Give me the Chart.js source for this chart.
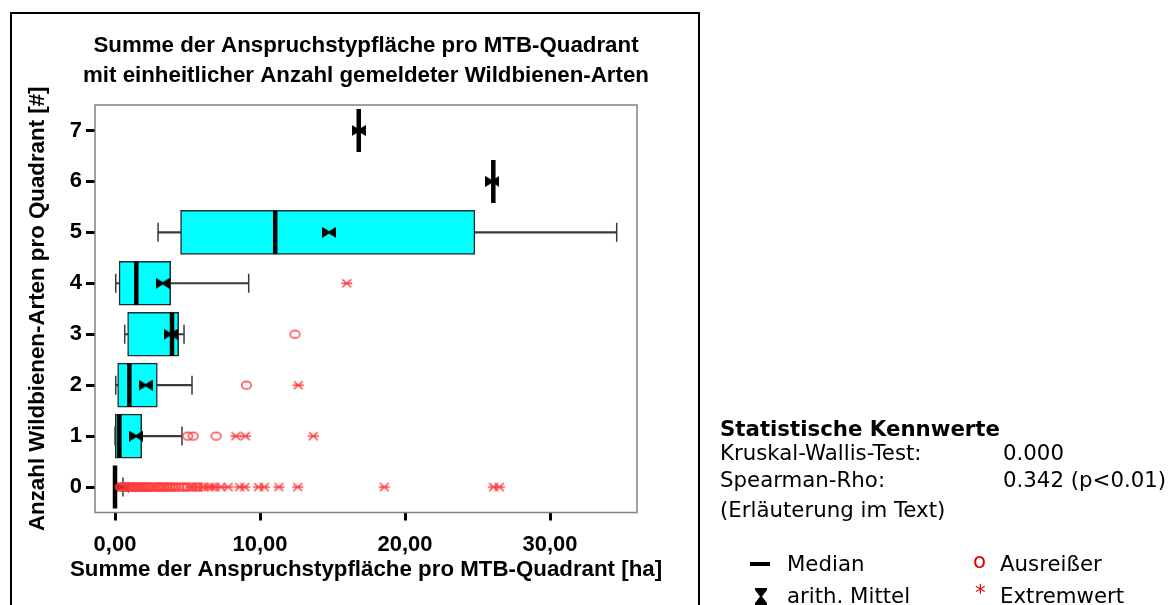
<!DOCTYPE html>
<html><head><meta charset="utf-8">
<script src="https://cdn.jsdelivr.net/npm/chart.js@4.4.0/dist/chart.umd.min.js"></script>
<style>
html,body{margin:0;padding:0;background:#fff;width:1175px;height:605px;overflow:hidden;position:relative;}
#frame{position:absolute;left:10px;top:12px;width:690px;height:700px;border:2px solid #000;box-sizing:border-box;}
#wrap{position:absolute;left:0;top:0;width:1175px;height:605px;}
.t{position:absolute;font-family:"DejaVu Sans",Verdana,sans-serif;font-size:21.3px;color:#000;white-space:nowrap;line-height:24px;}
.b{font-weight:bold;}
.red{color:#e00000;}
</style></head><body>
<div id="frame"></div>
<div id="wrap"><canvas id="c" width="1175" height="605"></canvas></div>

<div class="t b" style="left:720px;top:417px;">Statistische Kennwerte</div>
<div class="t" style="left:720px;top:441px;">Kruskal-Wallis-Test:</div>
<div class="t" style="left:1003px;top:441px;">0.000</div>
<div class="t" style="left:720px;top:468px;">Spearman-Rho:</div>
<div class="t" style="left:1003px;top:468px;">0.342 (p&lt;0.01)</div>
<div class="t" style="left:720px;top:498px;">(Erläuterung im Text)</div>

<div style="position:absolute;left:750px;top:562px;width:20px;height:4px;background:#000;"></div>
<div class="t" style="left:787px;top:552px;">Median</div>
<div class="t red" style="left:973px;top:549px;">o</div>
<div class="t" style="left:1000px;top:552px;">Ausreißer</div>
<svg style="position:absolute;left:755px;top:588px;" width="12" height="17" viewBox="0 0 12 17"><path d="M0 0 H12 V2 L7 8.5 L12 15 V17 H0 V15 L5 8.5 L0 2 Z" fill="#000"/></svg>
<div class="t" style="left:787px;top:584px;">arith. Mittel</div>
<div class="t red" style="left:975px;top:581px;">*</div>
<div class="t" style="left:1000px;top:584px;">Extremwert</div>

<script>
// ---- data ----
const categories   = [0, 1, 2, 3, 4, 5, 6, 7];
const yTickLabels  = ['0', '1', '2', '3', '4', '5', '6', '7'];
const xTickValues  = [0, 10, 20, 30];
const xTickLabels  = ['0,00', '10,00', '20,00', '30,00'];

const whiskerLow   = [0.00, 0.00, 0.05, 0.67, 0.05, 2.97, 26.09, 16.81];
const q1           = [0.00, 0.02, 0.18, 0.87, 0.28, 4.52, 26.09, 16.81];
const medians      = [0.00, 0.30, 0.99, 3.93, 1.47, 11.05, 26.09, 16.81];
const q3           = [0.00, 1.84, 2.92, 4.39, 3.84, 24.82, 26.09, 16.81];
const whiskerHigh  = [0.55, 4.62, 5.31, 4.76, 9.22, 34.60, 26.09, 16.81];
const means        = [0.50, 1.45, 2.11, 3.84, 3.29, 14.76, 26.02, 16.81];

// outliers (circles) per category
const outliers0 = [0.35, 0.45, 0.55, 0.65, 0.75, 0.85, 0.95, 1.05, 1.15, 1.25, 1.35, 1.45, 1.55,
                   1.65, 1.75, 1.85, 1.95, 2.05, 2.15, 2.25, 2.35, 2.45, 2.6, 2.75, 2.9, 3.0, 3.1,
                   3.2, 3.35, 3.5, 3.6, 3.75, 3.9, 4.05, 4.2, 4.4, 4.6, 4.8, 5.0, 5.3, 5.6, 5.9];
const outliers1 = [5.01, 5.39, 6.97];
const outliers2 = [9.06];
const outliers3 = [12.41];
const outliers4 = [];
// extremes (asterisks) per category
const extremes0 = [5.3, 5.7, 6.1, 6.5, 6.7, 6.9, 7.3, 7.8, 8.6, 8.95, 9.9, 10.3, 11.3, 12.6, 18.57, 26.1, 26.5];
const extremes1 = [8.34, 8.99, 13.68];
const extremes2 = [12.64];
const extremes3 = [];
const extremes4 = [15.98];

const titleLines = ['Summe der Anspruchstypfläche pro MTB-Quadrant',
                    'mit einheitlicher Anzahl gemeldeter Wildbienen-Arten'];
const xTitle = 'Summe der Anspruchstypfläche pro MTB-Quadrant [ha]';
const yTitle = 'Anzahl Wildbienen-Arten pro Quadrant [#]';

// ---- marker images ----
function makeCanvas(w, h, draw) {
  const c = document.createElement('canvas'); c.width = w; c.height = h;
  draw(c.getContext('2d'), w, h); return c;
}
const bowtie = makeCanvas(14, 11, (g, w, h) => {
  g.fillStyle = '#000'; g.beginPath();
  g.moveTo(0, 0); g.lineTo(w / 2, h / 2 - 1.2); g.lineTo(w, 0); g.lineTo(w, h);
  g.lineTo(w / 2, h / 2 + 1.2); g.lineTo(0, h); g.closePath(); g.fill();
});
const redColor = '#ff3b3b';
const ellipse = makeCanvas(13, 11, (g) => {
  g.strokeStyle = redColor; g.lineWidth = 1.4; g.beginPath();
  g.ellipse(6.5, 5.5, 4.8, 3.8, 0, 0, Math.PI * 2); g.stroke();
});
const asterisk = makeCanvas(13, 11, (g) => {
  g.strokeStyle = redColor; g.lineWidth = 1.4; g.beginPath();
  g.moveTo(2, 1.5); g.lineTo(11, 9.5); g.moveTo(11, 1.5); g.lineTo(2, 9.5);
  g.moveTo(1, 5.5); g.lineTo(12, 5.5); g.stroke();
});

// ---- build datasets from arrays ----
const whiskerBars = categories.map((c, i) => ({ x: [whiskerLow[i], whiskerHigh[i]], y: c }));
const boxBars = categories.map((c, i) => ({ x: [q1[i], q3[i]], y: c }));
const capPts = [];
categories.forEach((c, i) => {
  if (whiskerHigh[i] > whiskerLow[i]) {
    capPts.push({ x: whiskerLow[i], y: c }); capPts.push({ x: whiskerHigh[i], y: c });
  }
});
const medianPts = categories.map((c, i) => ({ x: medians[i], y: c }));
const meanPts = categories.map((c, i) => ({ x: means[i], y: c }));
const outlierPts = [];
[outliers0, outliers1, outliers2, outliers3, outliers4].forEach((arr, c) => arr.forEach(v => outlierPts.push({ x: v, y: c })));
const extremePts = [];
[extremes0, extremes1, extremes2, extremes3, extremes4].forEach((arr, c) => arr.forEach(v => extremePts.push({ x: v, y: c })));

const FONT = '"Liberation Sans", Arial, sans-serif';

const areaBorder = {
  id: 'areaBorder',
  beforeDatasetsDraw(chart) {
    const { ctx, chartArea: a } = chart;
    ctx.save(); ctx.strokeStyle = '#808080'; ctx.lineWidth = 1.5;
    ctx.strokeRect(a.left, a.top, a.right - a.left, a.bottom - a.top); ctx.restore();
  }
};

// let title texts keep their natural width (no maxWidth squeezing), centred as before
const noSqueeze = {
  id: 'noSqueeze',
  afterLayout(chart) {
    const t = chart.titleBlock;
    if (t) { t.left -= 80; t.right += 80; t.width += 160; }
    const sx = chart.scales.x, sy = chart.scales.y;
    if (sx && !sx._wide) {
      const orig = sx.drawTitle;
      sx.drawTitle = function () { const l = this.left, r = this.right; this.left = l - 80; this.right = r + 80;
        orig.call(this); this.left = l; this.right = r; };
      sx._wide = true;
    }
    if (sy && !sy._wide) {
      const orig = sy.drawTitle;
      sy.drawTitle = function () { const tp = this.top, b = this.bottom; this.top = tp - 60; this.bottom = b + 60;
        orig.call(this); this.top = tp; this.bottom = b; };
      sy._wide = true;
    }
  }
};

new Chart(document.getElementById('c'), {
  type: 'bar',
  data: {
    datasets: [
      { type: 'bar', indexAxis: 'y', data: whiskerBars, backgroundColor: '#3a3a3a', borderWidth: 0,
        barThickness: 1.5, grouped: false, order: 6 },
      { type: 'bar', indexAxis: 'y', data: boxBars, backgroundColor: '#00ffff', borderColor: '#2a2a2a',
        borderWidth: 1.5, borderSkipped: false, barThickness: 44, grouped: false, order: 5 },
      { type: 'scatter', data: capPts, pointStyle: 'line', rotation: 90, pointRadius: 9.5,
        borderColor: '#3a3a3a', pointBorderWidth: 1.5, order: 4 },
      { type: 'scatter', data: medianPts, pointStyle: 'line', rotation: 90, pointRadius: 21.5,
        borderColor: '#000', pointBorderWidth: 4.5, order: 3 },
      { type: 'scatter', data: meanPts, pointStyle: bowtie, pointRadius: 7, order: 2 },
      { type: 'scatter', data: extremePts, pointStyle: asterisk, pointRadius: 6, order: 1 },
      { type: 'scatter', data: outlierPts, pointStyle: ellipse, pointRadius: 6, order: 0 }
    ]
  },
  options: {
    responsive: false, animation: false,
    layout: { padding: { left: 14, right: 538, top: 0, bottom: 0 } },
    plugins: {
      legend: { display: false }, tooltip: { enabled: false },
      title: { display: true, fullSize: false, text: titleLines, color: '#000',
        font: { family: FONT, size: 22.3, weight: 'bold', lineHeight: 30 / 22.3 },
        padding: { top: 31, bottom: 14 } }
    },
    scales: {
      x: {
        type: 'linear', min: -1.38, max: 36.0, offset: false,
        afterBuildTicks: a => { a.ticks = xTickValues.map(v => ({ value: v })); },
        afterFit: s => { s.height = 92.5; },
        ticks: { callback: (v, i) => xTickLabels[i], color: '#000', padding: 11,
          font: { family: FONT, size: 22, weight: 'bold' }, maxRotation: 0 },
        grid: { offset: false, drawOnChartArea: false, drawTicks: true, tickLength: 8, tickWidth: 3, tickColor: '#000' },
        border: { display: false },
        title: { display: true, text: xTitle, color: '#000',
          font: { family: FONT, size: 22.3, weight: 'bold' }, padding: { top: 0, bottom: 22 } }
      },
      y: {
        type: 'linear', min: -0.5, max: 7.5, offset: false,
        afterBuildTicks: a => { a.ticks = categories.map(v => ({ value: v })); },
        afterFit: s => { s.width = 81; },
        ticks: { callback: (v, i) => yTickLabels[i], color: '#000', padding: 4,
          font: { family: FONT, size: 22, weight: 'bold' } },
        grid: { offset: false, drawOnChartArea: false, drawTicks: true, tickLength: 9, tickWidth: 3, tickColor: '#000' },
        border: { display: false },
        title: { display: true, text: yTitle, color: '#000',
          font: { family: FONT, size: 22.3, weight: 'bold' }, padding: { top: 10, bottom: 0 } }
      }
    }
  },
  plugins: [areaBorder, noSqueeze]
});
</script>
</body></html>
